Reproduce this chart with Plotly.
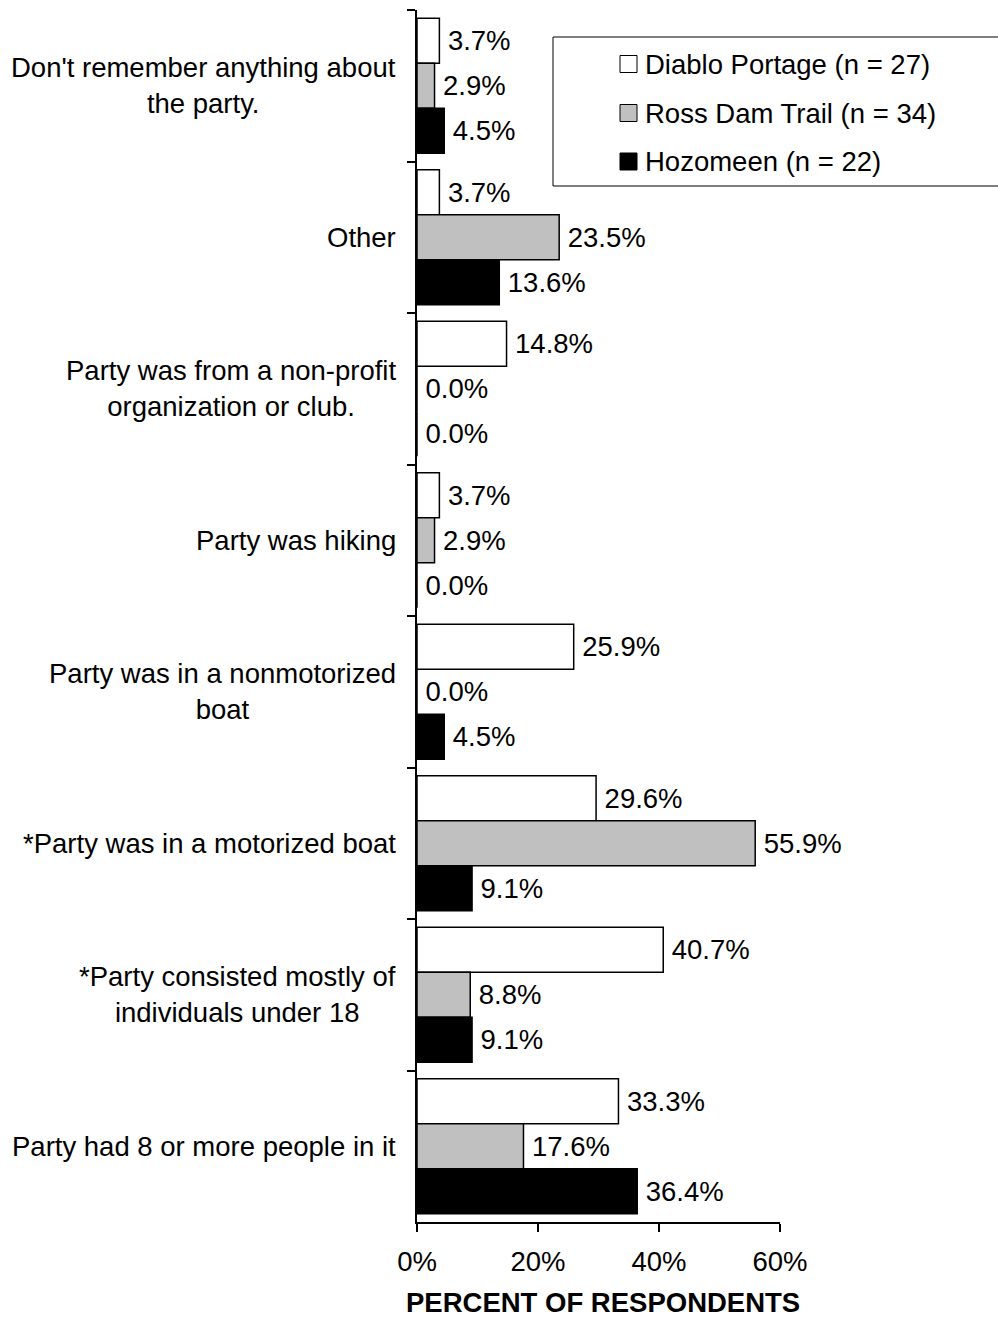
import plotly.graph_objects as go

categories = [
    "Don't remember anything about<br>the party.",
    "Other",
    "Party was from a non-profit<br>organization or club.",
    "Party was hiking",
    "Party was in a nonmotorized<br>boat",
    "*Party was in a motorized boat",
    "*Party consisted mostly of<br>individuals under 18",
    "Party had 8 or more people in it",
]
series_names = ["Diablo Portage (n = 27)", "Ross Dam Trail (n = 34)", "Hozomeen (n = 22)"]
diablo = [3.7, 3.7, 14.8, 3.7, 25.9, 29.6, 40.7, 33.3]
ross = [2.9, 23.5, 0.0, 2.9, 0.0, 55.9, 8.8, 17.6]
hozomeen = [4.5, 13.6, 0.0, 0.0, 4.5, 9.1, 9.1, 36.4]
series_values = [diablo, ross, hozomeen]
colors = ["#ffffff", "#c0c0c0", "#000000"]
x_ticks = [0, 20, 40, 60]
x_tick_labels = ["0%", "20%", "40%", "60%"]

FONT = "Liberation Sans, Arial, sans-serif"
FS = 27.5
W, H = 998, 1319
ML, MR, MT, MB = 417, 218, 10, 97
PW = W - ML - MR
PH = H - MT - MB


def px_x(p):
    return (p - ML) / PW


def px_y(p):
    return (H - MB - p) / PH


fig = go.Figure()
for name, vals, col in zip(series_names, series_values, colors):
    fig.add_trace(go.Bar(
        y=categories, x=vals, orientation="h", name=name,
        marker=dict(color=col, line=dict(color="black", width=1.5)),
        text=["\u2009%.1f%%" % v for v in vals],
        textposition="outside", textfont=dict(family=FONT, size=FS, color="black"),
        constraintext="none", cliponaxis=False, showlegend=False,
    ))

shapes = []
annotations = []
# category labels
for c in categories:
    annotations.append(dict(
        x=0, xref="paper", y=c, yref="y", xanchor="right", yanchor="middle",
        xshift=-19, text=c, showarrow=False, align="center",
        font=dict(family=FONT, size=FS, color="black"),
    ))

# legend box
shapes.append(dict(type="rect", xref="paper", yref="paper",
                   x0=px_x(553), x1=px_x(1005), y0=px_y(186), y1=px_y(37),
                   line=dict(color="black", width=1), fillcolor="white", layer="above"))
rows = [64, 113, 161.5]
for name, col, ry in zip(series_names, colors, rows):
    shapes.append(dict(type="rect", xref="paper", yref="paper",
                       x0=px_x(620), x1=px_x(637), y0=px_y(ry + 8.5), y1=px_y(ry - 8.5),
                       line=dict(color="black", width=1), fillcolor=col, layer="above"))
    annotations.append(dict(
        x=px_x(643), xref="paper", y=px_y(ry), yref="paper", xanchor="left", yanchor="middle",
        text=name, showarrow=False, font=dict(family=FONT, size=FS, color="black"),
    ))

# axis title (as annotation for exact placement)
annotations.append(dict(
    x=px_x(603), xref="paper", y=px_y(1302), yref="paper", xanchor="center", yanchor="middle",
    text="<b>PERCENT OF RESPONDENTS</b>", showarrow=False, borderpad=0,
    font=dict(family=FONT, size=FS, color="black"),
))

fig.update_layout(
    width=W, height=H,
    margin=dict(l=ML, r=MR, t=MT, b=MB, pad=0),
    paper_bgcolor="white", plot_bgcolor="white",
    barmode="group", bargap=0.11, bargroupgap=0,
    font=dict(family=FONT, size=FS, color="black"),
    shapes=shapes, annotations=annotations,
    xaxis=dict(
        range=[0, 60], tickvals=x_ticks, ticktext=x_tick_labels,
        showgrid=False, zeroline=False, showline=True, linecolor="black", linewidth=1.5,
        ticks="outside", ticklen=8, tickwidth=1.5, tickcolor="black",
        tickfont=dict(family=FONT, size=FS, color="black"), ticklabelstandoff=6,
    ),
    yaxis=dict(
        type="category", autorange="reversed", tickson="boundaries",
        showgrid=False, zeroline=False, showline=True, linecolor="black", linewidth=1.5,
        ticks="outside", ticklen=8, tickwidth=1.5, tickcolor="black",
        showticklabels=False,
    ),
)

fig.write_html(
    "out.html",
    config={"displayModeBar": False},
    post_script="document.body.style.margin='0';document.body.style.overflow='hidden';",
)
